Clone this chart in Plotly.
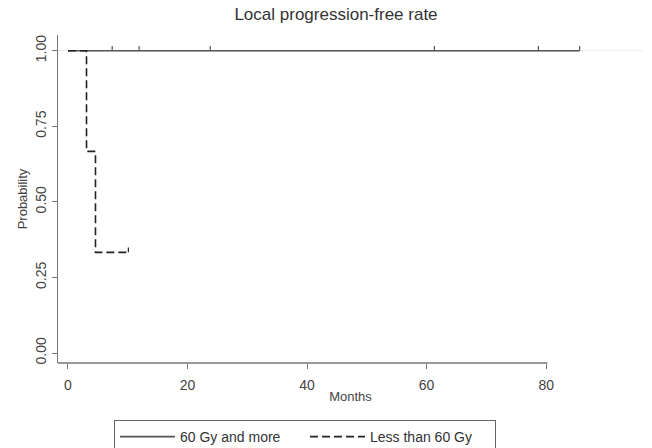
import plotly.graph_objects as go

# ---- data ----
title_text = "Local progression-free rate"
group_names = ["60 Gy and more", "Less than 60 Gy"]

# Kaplan-Meier steps (months, survival probability)
months_hi = [0, 85.6]
surv_hi = [1.0, 1.0]
censor_months_hi = [7.4, 11.9, 23.8, 61.3, 78.7, 85.6]
censor_surv_hi = [1.0, 1.0, 1.0, 1.0, 1.0, 1.0]

months_lo = [0, 3.1, 4.6, 10.1]
surv_lo = [1.0, 0.667, 0.333, 0.333]
censor_months_lo = [10.1]
censor_surv_lo = [0.333]

x_ticks = [0, 20, 40, 60, 80]
y_ticks = [0.0, 0.25, 0.5, 0.75, 1.0]
y_tick_labels = ["0.00", "0.25", "0.50", "0.75", "1.00"]

FONT = "Liberation Sans, Arial, sans-serif"
TICK_UP = 0.016  # censor tick length (probability units)

fig = go.Figure()

fig.add_trace(go.Scatter(
    x=months_hi, y=surv_hi, mode="lines", name=group_names[0],
    line=dict(color="#555555", width=1.6, shape="hv"),
))
fig.add_trace(go.Scatter(
    x=months_lo, y=surv_lo, mode="lines", name=group_names[1],
    line=dict(color="#222222", width=1.6, shape="hv", dash="8px,4px"),
))
# censor ticks (upward marks)
fig.add_trace(go.Scatter(
    x=censor_months_hi, y=censor_surv_hi, mode="markers", showlegend=False,
    marker=dict(size=1, color="rgba(0,0,0,0)"),
    error_y=dict(type="constant", value=TICK_UP, valueminus=0, symmetric=False,
                 width=0, thickness=1.2, color="#555555"),
    hoverinfo="skip",
))
fig.add_trace(go.Scatter(
    x=censor_months_lo, y=censor_surv_lo, mode="markers", showlegend=False,
    marker=dict(size=1, color="rgba(0,0,0,0)"),
    error_y=dict(type="constant", value=TICK_UP, valueminus=0, symmetric=False,
                 width=0, thickness=1.2, color="#222222"),
    hoverinfo="skip",
))

# faint reference line at 1.00 and x-axis line up to 80
fig.add_shape(type="line", xref="paper", yref="y", x0=0, x1=1, y0=1, y1=1,
              line=dict(color="#ebebeb", width=1), layer="below")
fig.add_shape(type="line", xref="x", yref="paper", x0=-1.67, x1=80.2, y0=0, y1=0,
              line=dict(color="#777777", width=1.3))

fig.update_layout(
    width=652, height=448,
    margin=dict(l=58, r=9, t=35, b=85, autoexpand=False),
    paper_bgcolor="white", plot_bgcolor="white",
    font=dict(family=FONT, color="#444444", size=13),
    title=dict(text=title_text, x=336/652, xanchor="center", xref="container",
               y=1 - 14/448, yanchor="middle", automargin=False,
               font=dict(size=17, color="#333333", family=FONT)),
    showlegend=True,
    legend=dict(orientation="h", x=(305-58)/585, xanchor="center",
                y=-(420-363)/328, yanchor="top",
                bordercolor="#666666", borderwidth=1,
                font=dict(size=14, color="#333333"),
                itemwidth=55, tracegroupgap=0,
                entrywidthmode="pixels", entrywidth=120),
)

fig.update_xaxes(
    range=[-1.67, 96.2], tickvals=x_ticks, ticks="outside", ticklen=5,
    tickcolor="#777777", tickwidth=1.2, showgrid=False, zeroline=False,
    showline=False, automargin=False, ticklabelstandoff=4,
    tickfont=dict(size=14, color="#444444"),
    title=dict(text="Months", standoff=0, font=dict(size=13, color="#444444")),
)
fig.update_yaxes(
    range=[-0.033, 1.052], tickvals=y_ticks, ticktext=y_tick_labels,
    ticks="outside", ticklen=5, tickcolor="#777777", tickwidth=1.2,
    showgrid=False, zeroline=False, showline=True, linecolor="#777777",
    linewidth=1.3, tickangle=-90, automargin=False, ticklabelstandoff=0,
    tickfont=dict(size=14, color="#444444"),
    title=dict(text="Probability", standoff=2, font=dict(size=13, color="#444444")),
)

fig.write_html(
    "out.html",
    config={"displayModeBar": False},
    post_script="document.body.style.margin='0';document.body.style.overflow='hidden';",
)
